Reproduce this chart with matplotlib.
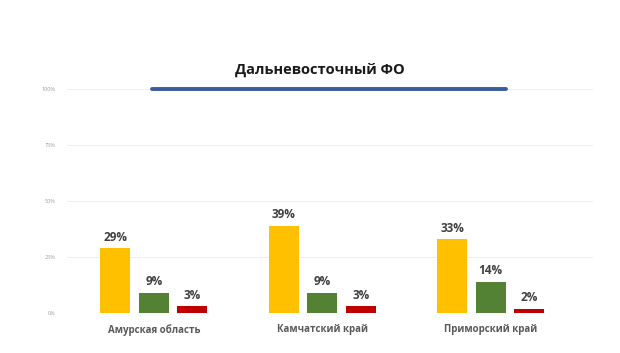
import matplotlib
matplotlib.use("Agg")
import matplotlib.pyplot as plt
import numpy as np

plt.rcParams['font.family'] = ['Open Sans', 'DejaVu Sans']

categories = ["Амурская область", "Камчатский край", "Приморский край"]
series_yellow = [0.29, 0.39, 0.33]
series_green = [0.09, 0.09, 0.14]
series_red = [0.03, 0.03, 0.02]
total_line = [1.0, 1.0, 1.0]
yticks = [0, 0.25, 0.5, 0.75, 1.0]
ytick_labels = ["0%", "25%", "50%", "75%", "100%"]
title = "Дальневосточный ФО"

fig = plt.figure(figsize=(6.2, 3.53), dpi=100)
ax = fig.add_axes([0.108, 0.1133, 0.848, 0.6347])

x = np.arange(len(categories))
w = 0.178
off = 0.228
colors = ["#FFC000", "#548235", "#C00000"]
for vals, dx, c in zip([series_yellow, series_green, series_red], [-off, 0, off], colors):
    bars = ax.bar(x + dx, vals, width=w, color=c, zorder=3)
    for b, v in zip(bars, vals):
        ax.text(b.get_x() + b.get_width() / 2, v + 0.02, f"{int(round(v*100))}%",
                ha="center", va="bottom", fontsize=8.5, fontweight="bold", color="#404040")

ax.plot([x[0] - 0.01, x[1], x[2] + 0.09], total_line, color="#3A5BA0", lw=2.8,
        solid_capstyle="round", zorder=4, clip_on=False)

ax.set_xlim(-0.516, 2.605)
ax.set_ylim(0, 1.0)
ax.set_yticks(yticks)
ax.set_yticklabels(ytick_labels, fontsize=4, color="#A0A0A0")
ax.set_xticks(x)
ax.set_xticklabels(categories, fontsize=7, fontweight="bold", color="#595959")
ax.tick_params(axis="both", length=0)
ax.tick_params(axis="x", pad=8)
ax.tick_params(axis="y", pad=8)
ax.grid(axis="y", color="#EFEFEF", lw=0.8, zorder=0)
for s in ax.spines.values():
    s.set_visible(False)

fig.text(0.516, 0.802, title, ha="center", va="center", fontsize=10.5,
         fontweight="bold", color="#1A1A1A")

fig.savefig("out.png", dpi=100)
